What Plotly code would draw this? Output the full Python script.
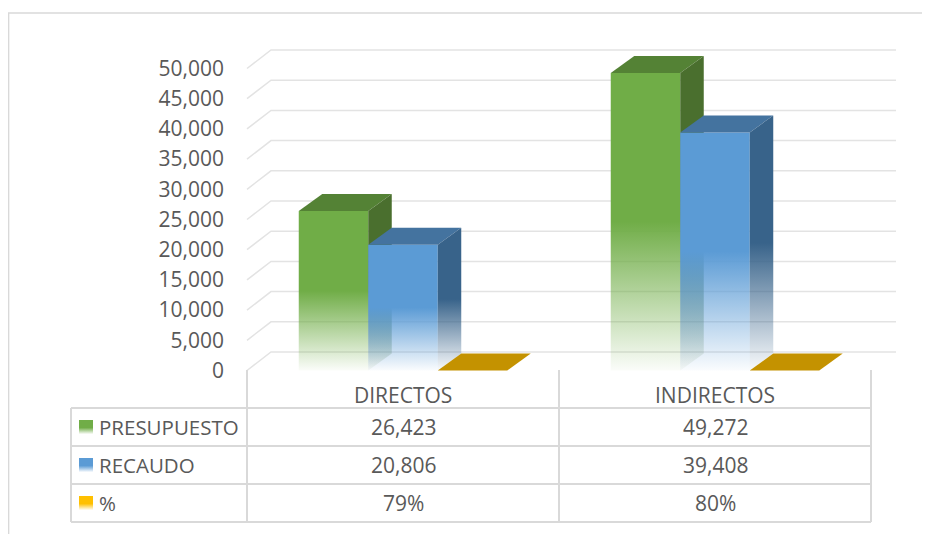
import plotly.graph_objects as go

# ---- data ----
categories = ["DIRECTOS", "INDIRECTOS"]
series_names = ["PRESUPUESTO", "RECAUDO", "%"]
presupuesto = [26423, 49272]
recaudo = [20806, 39408]
porcentaje = [0.79, 0.80]
y_ticks = list(range(0, 50001, 5000))

# colours: front, top, side, legend key
green = dict(front="#70AD47", top="#548235", side="#4A6F2E", key="#70AD47")
blue = dict(front="#5B9BD5", top="#44739F", side="#38638A", key="#5B9BD5")
gold = dict(front="#C49200", top="#C49200", side="#A67C00", key="#FFC000")
styles = [green, blue, gold]

FONT = "Open Sans"
FS = 21
TXT = "#595959"
LINE = "#D9D9D9"

# ---- layout geometry (plot area = whole page) ----
W, H = 930, 534
PAGE = 8                        # the page body offsets the figure by 8px
X0_PX, CAT_PX = 247, 312        # left edge of first category, width of a category
Y0_PX, PX_PER_K = 370.5, 6.04   # value-0 baseline, pixels per 1000


def data_x(px):
    return (px - X0_PX) / CAT_PX - 0.5


def data_y(py):
    return (Y0_PX - py) / PX_PER_K * 1000


def paper_x(px):
    return (px - PAGE) / W


def paper_y(py):
    return 1 - (py - PAGE) / H


BAR_W = 69.5 / CAT_PX
DEPTH_X = 23.5 / CAT_PX
DEPTH_Y = 17 / PX_PER_K * 1000
WALL_X = 24 / CAT_PX
WALL_Y = 18.5 / PX_PER_K * 1000
GRID_END = data_x(896)


def rgba(hexc, a):
    h = hexc.lstrip("#")
    r, g, b = int(h[0:2], 16), int(h[2:4], 16), int(h[4:6], 16)
    return f"rgba({r},{g},{b},{a})"


def face(xs, ys, color, fade=None):
    tr = go.Scatter(x=xs + [xs[0]], y=ys + [ys[0]], mode="none", fill="toself",
                    hoverinfo="skip", showlegend=False)
    if fade is None:
        tr.fillcolor = color
    else:
        tr.fillgradient = dict(type="vertical", colorscale=[
            [0, rgba(color, 0.03)], [fade, rgba(color, 1)], [1, rgba(color, 1)]])
    return tr


fig = go.Figure()

# back wall / side wall gridlines
gx, gy = [], []
for v in y_ticks:
    gx += [-0.5, -0.5 + WALL_X, GRID_END, None]
    gy += [v, v + WALL_Y, v + WALL_Y, None]
fig.add_trace(go.Scatter(x=gx, y=gy, mode="lines", line=dict(color="#E3E3E3", width=1.5),
                         hoverinfo="skip", showlegend=False))

# 3D columns
values = [presupuesto, recaudo, porcentaje]
for ci in range(len(categories)):
    for si, vals in enumerate(values):
        st = styles[si]
        v = vals[ci]
        x0 = ci + (si - 1) * BAR_W - BAR_W / 2
        x1 = x0 + BAR_W
        if v > 1000:
            fig.add_trace(face([x0, x1, x1, x0], [0, 0, v, v], st["front"], fade=0.5))
        fig.add_trace(face([x0, x1, x1 + DEPTH_X, x0 + DEPTH_X],
                           [v, v, v + DEPTH_Y, v + DEPTH_Y], st["top"]))
        if v > 1000:
            fig.add_trace(face([x1, x1 + DEPTH_X, x1 + DEPTH_X, x1],
                               [0, DEPTH_Y, v + DEPTH_Y, v], st["side"], fade=0.5))

# data table
shapes = []


def seg(px0, py0, px1, py1, width=2):
    shapes.append(dict(type="line", xref="paper", yref="paper",
                       x0=paper_x(px0), x1=paper_x(px1), y0=paper_y(py0), y1=paper_y(py1),
                       line=dict(color=LINE, width=width)))


ROWS = [408, 446, 484, 522]
for r in ROWS:
    seg(71, r, 871, r)
seg(71, 408, 71, 522)
for b in [X0_PX, X0_PX + CAT_PX, X0_PX + 2 * CAT_PX]:
    seg(b, 370, b, 522)

# chart frame
seg(8.6, 13, 8.6, 560, width=1.5)
seg(8, 13, 960, 13, width=1.5)

annotations = []


def text(s, x, xref, py, xanchor="center", size=FS):
    annotations.append(dict(text=s, x=x, xref=xref, y=paper_y(py), yref="paper",
                            xanchor=xanchor, yanchor="middle", showarrow=False,
                            font=dict(family=FONT, size=size, color=TXT)))


for ci, cat in enumerate(categories):
    text(cat, ci, "x", 394.5)
    text(f"{presupuesto[ci]:,}", ci, "x", 427)
    text(f"{recaudo[ci]:,}", ci, "x", 465)
    text(f"{porcentaje[ci]:.0%}", ci, "x", 503)

for ri, name in enumerate(series_names):
    yc = (ROWS[ri] + ROWS[ri + 1]) / 2
    text(name, paper_x(97), "paper", yc, xanchor="left", size=20.5)
    k = styles[ri]["key"]
    fig.add_trace(face([data_x(79), data_x(93), data_x(93), data_x(79)],
                       [data_y(yc + 7), data_y(yc + 7), data_y(yc - 7), data_y(yc - 7)],
                       k, fade=0.45))

fig.update_layout(
    width=W, height=H,
    margin=dict(l=0, r=0, t=0, b=0),
    paper_bgcolor="white", plot_bgcolor="white",
    showlegend=False,
    font=dict(family=FONT, size=FS, color=TXT),
    xaxis=dict(visible=False, range=[data_x(PAGE), data_x(PAGE + W)], fixedrange=True),
    yaxis=dict(range=[data_y(PAGE + H), data_y(PAGE)], anchor="free", position=paper_x(X0_PX),
               tickvals=y_ticks, tickformat=",", showgrid=False, zeroline=False,
               showline=False, ticks="", ticklabelstandoff=23,
               tickfont=dict(family=FONT, size=FS, color=TXT), fixedrange=True),
    shapes=shapes,
    annotations=annotations,
)

fig.write_html("out.html")
